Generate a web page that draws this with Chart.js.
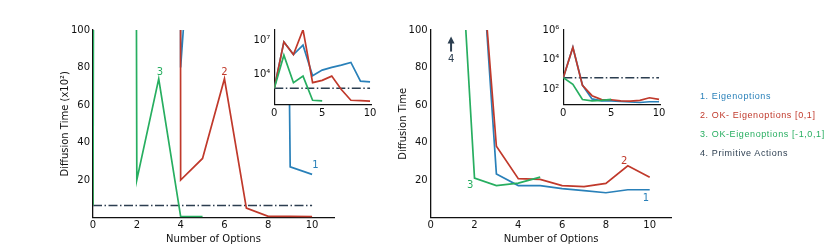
<!DOCTYPE html>
<html>
<head>
<meta charset="utf-8">
<script src="https://cdn.jsdelivr.net/npm/chart.js@4"></script>
<style>
  body { margin: 0; background: #fff; }
  #wrap { position: relative; width: 830px; height: 249px; overflow: hidden; background: #fff; }
  canvas { position: absolute; }
  .legend { position: absolute; left: 700px; font: 9px "Liberation Sans", Arial, sans-serif; letter-spacing: 0.6px; line-height: 12px; white-space: nowrap; }
</style>
</head>
<body>
<div id="wrap">
  <canvas id="leftMain" width="345" height="249" style="left:0;top:0"></canvas>
  <canvas id="leftInset" width="145" height="105" style="left:236px;top:20px"></canvas>
  <canvas id="rightMain" width="320" height="249" style="left:370px;top:0"></canvas>
  <canvas id="rightInset" width="145" height="105" style="left:525px;top:20px"></canvas>
  <div class="legend" style="top:90px;color:#2980b9">1. Eigenoptions</div>
  <div class="legend" style="top:108.5px;color:#c0392b">2. OK- Eigenoptions [0,1]</div>
  <div class="legend" style="top:127.5px;color:#27ae60">3. OK-Eigenoptions [-1,0,1]</div>
  <div class="legend" style="top:146.5px;color:#2c3e50">4. Primitive Actions</div>
</div>
<script>
// number of options on the x axis
const options = [0, 1, 2, 3, 4, 5, 6, 7, 8, 9, 10];
const xTicksMain = [0, 2, 4, 6, 8, 10];
const xTicksInset = [0, 5, 10];
const yTicksMain = [20, 40, 60, 80, 100];
const yTicksLeftInset = [1e4, 1e7];
const yTicksRightInset = [1e2, 1e4, 1e6];

// left panel, raw diffusion time (main plot shows it in units of 10^2)
const leftPrimitive = 640;
const leftEigen = [640, 6.9e6, 5.6e5, 3.6e6, 8000, 24500, 42700, 67600, 115000, 2700, 2300];
const leftOK01 = [640, 6.9e6, 5.6e5, 8e7, 2000, 3150, 7400, 500, 59, 55, 50];
const leftOK101 = [640, 4.9e5, 2000, 7400, 59, 52];

// right panel, raw diffusion time
const rightPrimitive = 620;
const rightEigen = [620, 68000, 197, 23.2, 17, 17, 15.4, 14.3, 13.2, 14.8, 14.8];
const rightOK01 = [620, 68000, 186, 38, 20.7, 20.3, 17, 16.5, 18.2, 27.6, 21.5];
const rightOK101 = [620, 220, 21, 17, 18.3, 21.5];

// number labels next to the curves (data coords)
const leftLabelText = ['1', '2', '3'];
const leftLabelX = [10.15, 6.0, 3.05];
const leftLabelY = [27.6, 77.5, 77.5];
const rightLabelText = ['1', '2', '3', '4'];
const rightLabelX = [9.83, 8.83, 1.8, 0.93];
const rightLabelY = [10.2, 30.1, 17, 84.5];
const arrowX = 0.93, arrowFrom = 88.5, arrowTo = 96.6;

const BLUE = '#2980b9', RED = '#c0392b', GREEN = '#27ae60', DARK = '#2c3e50';
const labelColors = [BLUE, RED, GREEN, DARK];

Chart.defaults.font.family = 'DejaVu Sans';
Chart.defaults.font.size = 10;
Chart.defaults.color = '#111';
Chart.defaults.animation = false;
Chart.defaults.plugins.legend.display = false;
Chart.defaults.plugins.tooltip.enabled = false;

const SUP = { '0': '⁰', '1': '¹', '2': '²', '3': '³', '4': '⁴', '5': '⁵', '6': '⁶', '7': '⁷', '8': '⁸', '9': '⁹' };
const pow10Label = v => '10' + String(Math.round(Math.log10(v))).split('').map(c => SUP[c]).join('');

function pts(ys, scale) {
  return ys.map((y, i) => ({ x: options[i], y: y / scale }));
}
function lineSet(data, color, order) {
  return { data, borderColor: color, borderWidth: 1.7, pointRadius: 0, tension: 0, fill: false, order };
}
function dashSet(value, scale) {
  const last = options[options.length - 1];
  return {
    data: [{ x: options[0], y: value / scale }, { x: last, y: value / scale }],
    borderColor: DARK, borderWidth: 1.5, borderDash: [9, 2.5, 1.5, 2.5], pointRadius: 0, order: 4
  };
}
function setTicks(list) {
  return s => { s.ticks = list.map(v => ({ value: v })); };
}

const textLabels = {
  id: 'textLabels',
  afterDatasetsDraw(chart, args, opts) {
    if (!opts.text) return;
    const ctx = chart.ctx, xs = chart.scales.x, ys = chart.scales.y;
    ctx.save();
    ctx.font = '10px "DejaVu Sans"';
    ctx.textAlign = 'center';
    ctx.textBaseline = 'middle';
    opts.text.forEach((t, i) => {
      ctx.fillStyle = opts.colors[i];
      ctx.fillText(t, xs.getPixelForValue(opts.x[i]), ys.getPixelForValue(opts.y[i]));
    });
    if (opts.arrow) {
      const ax = xs.getPixelForValue(opts.arrow.x);
      const y0 = ys.getPixelForValue(opts.arrow.from), y1 = ys.getPixelForValue(opts.arrow.to);
      ctx.strokeStyle = DARK;
      ctx.fillStyle = DARK;
      ctx.lineWidth = 2;
      ctx.beginPath();
      ctx.moveTo(ax, y0);
      ctx.lineTo(ax, y1 + 5);
      ctx.stroke();
      ctx.beginPath();
      ctx.moveTo(ax, y1);
      ctx.lineTo(ax - 3.5, y1 + 7);
      ctx.lineTo(ax + 3.5, y1 + 7);
      ctx.closePath();
      ctx.fill();
    }
    ctx.restore();
  }
};

const whiteArea = {
  id: 'whiteArea',
  beforeDraw(chart) {
    const a = chart.chartArea, ctx = chart.ctx;
    ctx.save();
    ctx.fillStyle = '#fff';
    ctx.fillRect(a.left, a.top, a.right - a.left, a.bottom - a.top);
    ctx.restore();
  }
};

function mainChart(id, datasets, yTitle, pad, yWidth, labels) {
  return new Chart(document.getElementById(id), {
    type: 'line',
    data: { datasets },
    plugins: [textLabels],
    options: {
      responsive: false,
      layout: { padding: pad },
      plugins: { textLabels: labels },
      scales: {
        x: {
          type: 'linear', min: 0, max: 11,
          afterBuildTicks: setTicks(xTicksMain),
          afterFit: s => { s.height = 31.5; },
          grid: { display: false, drawTicks: false },
          border: { color: '#111', width: 1.3 },
          ticks: { padding: 2, maxRotation: 0, color: '#111' },
          title: { display: true, text: 'Number of Options', color: '#111', padding: { top: 0, bottom: 4 } }
        },
        y: {
          type: 'linear', min: 0, max: 100,
          afterBuildTicks: setTicks(yTicksMain),
          afterFit: s => { s.width = yWidth; },
          grid: { display: false, drawTicks: false },
          border: { color: '#111', width: 1.3 },
          ticks: { padding: 3, color: '#111' },
          title: { display: true, text: yTitle, color: '#111', padding: { top: 4, bottom: 4 } }
        }
      }
    }
  });
}

function insetChart(id, datasets, yMin, yMax, yTicks) {
  return new Chart(document.getElementById(id), {
    type: 'line',
    data: { datasets },
    plugins: [whiteArea],
    options: {
      responsive: false,
      layout: { padding: { left: 0, top: 9.7, right: 10, bottom: 0 } },
      scales: {
        x: {
          type: 'linear', min: 0, max: 10.1,
          afterBuildTicks: setTicks(xTicksInset),
          afterFit: s => { s.height = 20.7; },
          grid: { display: false, drawTicks: false },
          border: { color: '#111', width: 1.2 },
          ticks: { padding: 3, maxRotation: 0, color: '#111' }
        },
        y: {
          type: 'logarithmic', min: yMin, max: yMax,
          afterBuildTicks: setTicks(yTicks),
          afterFit: s => { s.width = 38.3; },
          grid: { display: false, drawTicks: false },
          border: { color: '#111', width: 1.2 },
          ticks: { padding: 4, color: '#111', callback: v => pow10Label(v) }
        }
      }
    }
  });
}

// left panel
mainChart('leftMain', [
  dashSet(leftPrimitive, 100),
  lineSet(pts(leftEigen, 100), BLUE, 3),
  lineSet(pts(leftOK01, 100), RED, 2),
  lineSet(pts(leftOK101, 100), GREEN, 1)
], 'Diffusion Time (x10²)', { left: 55, top: 30, right: 11, bottom: 0 }, 38,
  { text: leftLabelText, x: leftLabelX, y: leftLabelY, colors: labelColors });

insetChart('leftInset', [
  dashSet(leftPrimitive, 1),
  lineSet(pts(leftEigen, 1), BLUE, 3),
  lineSet(pts(leftOK01, 1), RED, 2),
  lineSet(pts(leftOK101, 1), GREEN, 1)
], 26.4, 7.5e7, yTicksLeftInset);

// right panel
mainChart('rightMain', [
  lineSet(pts(rightEigen, 1), BLUE, 3),
  lineSet(pts(rightOK01, 1), RED, 2),
  lineSet(pts(rightOK101, 1), GREEN, 1)
], 'Diffusion Time', { left: 23, top: 30, right: 18.4, bottom: 0 }, 37.7,
  { text: rightLabelText, x: rightLabelX, y: rightLabelY, colors: labelColors,
    arrow: { x: arrowX, from: arrowFrom, to: arrowTo } });

insetChart('rightInset', [
  dashSet(rightPrimitive, 1),
  lineSet(pts(rightEigen, 1), BLUE, 3),
  lineSet(pts(rightOK01, 1), RED, 2),
  lineSet(pts(rightOK101, 1), GREEN, 1)
], 10, 1e6, yTicksRightInset);
</script>
</body>
</html>
